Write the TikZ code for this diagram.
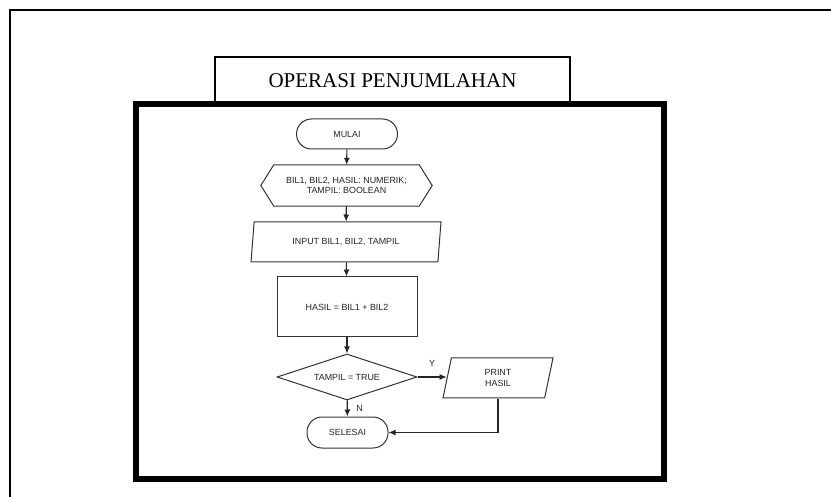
\documentclass[tikz,border=0pt]{standalone}
\usepackage{fontspec}
\setmainfont{Liberation Serif}
\newfontfamily\chartfont{Liberation Sans}
\usetikzlibrary{shapes.geometric,arrows.meta}
\begin{document}
\begin{tikzpicture}[x=1pt,y=-1pt,
  flow/.style={draw=black!80, line width=1pt, text=black!85,
    font=\chartfont\fontsize{8.9}{10.5}\selectfont, align=center, inner sep=0pt},
  term/.style={flow, rectangle, rounded corners=15pt},
  plain/.style={flow, rectangle},
  io/.style={flow, trapezium, trapezium stretches body},
  decide/.style={flow, diamond, aspect=3},
  hexbody/.style={draw=none, text=black!85,
    font=\chartfont\fontsize{8.9}{10.5}\selectfont, align=center, inner sep=0pt},
  link/.style={draw=black!85, line width=1.1pt, -{Latex[length=7pt,width=6pt]}},
  tag/.style={text=black!85, font=\chartfont\fontsize{8.9}{10.5}\selectfont, inner sep=0pt}]
\useasboundingbox (0,0) rectangle (831,497);
\fill[white] (0,0) rectangle (831,497);

% outer page frame (open to the right and bottom)
\coordinate (fa) at (10,497);
\coordinate (fb) at (10,10);
\coordinate (fc) at (831,10);
\draw[line width=1.5pt] (fa) -- (fb) -- (fc);

% title tab
\node[draw, line width=1.2pt, minimum width=355pt, minimum height=47pt, inner sep=0pt,
  font=\fontsize{21}{23}\selectfont] (title) at (392.5,80.5) {OPERASI PENJUMLAHAN};

% heavy panel frame
\node[draw, line width=6pt, minimum width=528pt, minimum height=375pt, inner sep=0pt]
  (panel) at (400,291.5) {};

% flowchart
\node[term, minimum width=101pt, minimum height=30pt] (start) at (347,134) {MULAI};

\node[hexbody, minimum width=171pt, minimum height=41pt] (decl) at (346.5,185.5)
  {BIL1, BIL2, HASIL: NUMERIK;\\TAMPIL: BOOLEAN};
\draw[draw=black!80, line width=1pt]
  (decl.west) -- ([xshift=13pt]decl.north west) -- ([xshift=-13pt]decl.north east)
  -- (decl.east) -- ([xshift=-13pt]decl.south east) -- ([xshift=13pt]decl.south west) -- cycle;

\node[io, trapezium left angle=67, trapezium right angle=113,
  minimum width=190pt, minimum height=40pt] (input) at (346,242) {INPUT BIL1, BIL2, TAMPIL};

\node[plain, minimum width=140pt, minimum height=60pt] (calc) at (347,307) {HASIL = BIL1 + BIL2};

\node[decide, minimum width=140pt, minimum height=46pt] (test) at (347,377) {TAMPIL = TRUE};

\node[io, trapezium left angle=63.4, trapezium right angle=116.6,
  minimum width=110pt, minimum height=40pt] (print) at (498,378) {PRINT\\HASIL};

\node[term, minimum width=81pt, minimum height=31pt] (stop) at (347.5,432.5) {SELESAI};

% connectors
\draw[link] (start) -- (decl);
\draw[link] (decl) -- (input);
\draw[link] (input) -- (calc);
\draw[link] (calc) -- (test);
\draw[link] (test.east) -- (test.east -| print.west);
\draw[link] (test) -- (stop);
\draw[link] (print.south -| print.center) |- (stop.east);

% branch labels
\node[tag] (yes) at (432,363) {Y};
\node[tag] (no) at (359.5,408) {N};
\end{tikzpicture}
\end{document}
